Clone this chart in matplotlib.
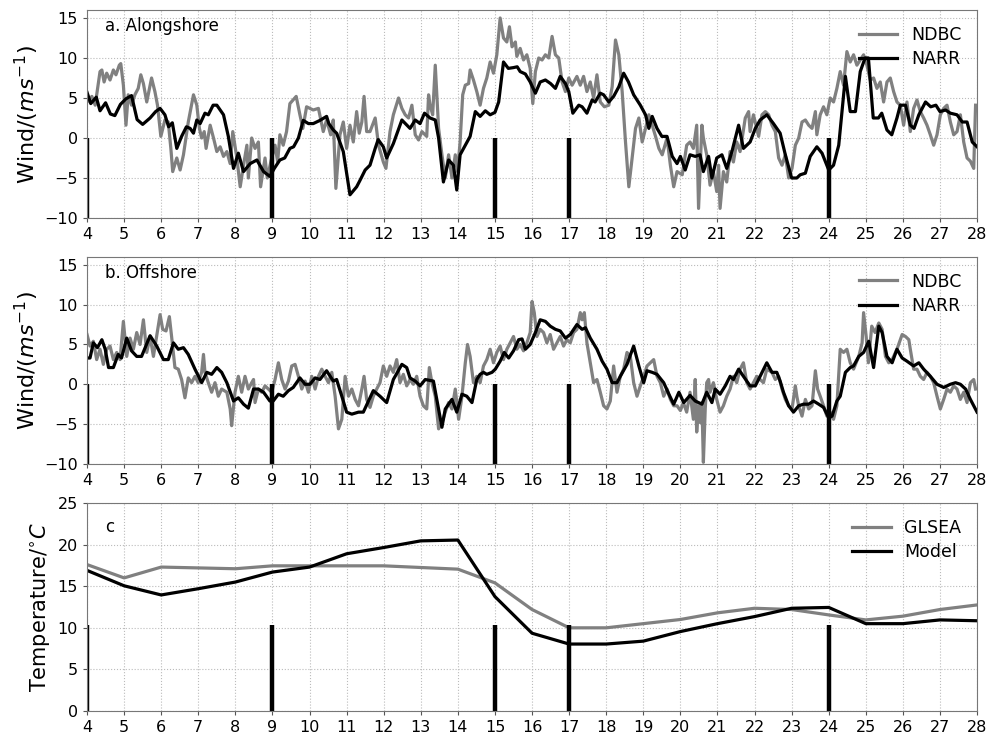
import numpy as np
import matplotlib
matplotlib.use("Agg")
import matplotlib.pyplot as plt

# ---- a. alongshore wind ----
ndbc_a_t = [4.0, 4.13, 4.22, 4.35, 4.4, 4.46, 4.53, 4.62, 4.71, 4.78, 4.87, 4.91, 4.98, 5.05, 5.11, 5.2, 5.29, 5.38,
            5.45, 5.52, 5.61, 5.74, 5.83, 5.9, 5.99, 6.1, 6.19, 6.26, 6.31, 6.42, 6.51, 6.6, 6.73, 6.87, 6.96, 7.03,
            7.09, 7.16, 7.21, 7.32, 7.41, 7.5, 7.59, 7.68, 7.77, 7.86, 7.93, 8.04, 8.13, 8.22, 8.31, 8.35, 8.44, 8.53,
            8.62, 8.68, 8.8, 8.86, 8.98, 9.07, 9.14, 9.2, 9.29, 9.38, 9.47, 9.64, 9.74, 9.82, 9.92, 10.1, 10.24, 10.37,
            10.46, 10.57, 10.64, 10.71, 10.82, 10.91, 11.0, 11.09, 11.18, 11.27, 11.34, 11.41, 11.47, 11.54, 11.63,
            11.77, 11.86, 11.99, 12.06, 12.17, 12.26, 12.4, 12.49, 12.58, 12.67, 12.76, 12.85, 12.94, 13.03, 13.16,
            13.21, 13.25, 13.32, 13.39, 13.48, 13.57, 13.66, 13.75, 13.84, 13.93, 13.99, 14.06, 14.13, 14.2, 14.29,
            14.33, 14.42, 14.51, 14.6, 14.69, 14.78, 14.87, 14.96, 15.05, 15.14, 15.23, 15.32, 15.39, 15.46, 15.55,
            15.59, 15.68, 15.77, 15.86, 15.95, 16.02, 16.09, 16.18, 16.27, 16.36, 16.45, 16.54, 16.63, 16.72, 16.81,
            16.9, 16.99, 17.08, 17.21, 17.3, 17.39, 17.48, 17.57, 17.66, 17.75, 17.84, 17.95, 18.07, 18.16, 18.25,
            18.34, 18.43, 18.52, 18.61, 18.7, 18.79, 18.88, 18.97, 19.06, 19.15, 19.24, 19.33, 19.42, 19.51, 19.64,
            19.73, 19.82, 19.91, 20.05, 20.17, 20.26, 20.35, 20.44, 20.49, 20.58, 20.62, 20.71, 20.8, 20.89, 20.98,
            21.03, 21.07, 21.16, 21.25, 21.34, 21.43, 21.52, 21.61, 21.75, 21.84, 21.88, 21.97, 22.11, 22.2, 22.29,
            22.38, 22.47, 22.56, 22.65, 22.74, 22.83, 22.92, 23.01, 23.1, 23.19, 23.28, 23.37, 23.46, 23.55, 23.64,
            23.68, 23.77, 23.86, 23.95, 24.04, 24.13, 24.22, 24.31, 24.4, 24.49, 24.58, 24.67, 24.76, 24.85, 24.94,
            25.03, 25.12, 25.21, 25.3, 25.39, 25.48, 25.57, 25.66, 25.75, 25.84, 25.93, 26.02, 26.11, 26.2, 26.29,
            26.38, 26.47, 26.56, 26.65, 26.74, 26.83, 26.92, 27.01, 27.1, 27.19, 27.28, 27.37, 27.46, 27.55, 27.64,
            27.73, 27.82, 27.91, 27.96]
ndbc_a_v = [4.5, 5.2, 4.1, 8.3, 8.5, 7.0, 8.1, 7.25, 8.5, 7.9, 9.1, 9.3, 6.6, 1.6, 5.4, 4.1, 5.4, 6.2,
            7.9, 6.8, 4.5, 7.5, 5.8, 4.1, 0.2, 2.25, 2.0, -1.3, -4.2, -2.5, -4.0, -2.1, 2.0, 5.4, 4.1, 1.2,
            0.0, 0.8, -1.3, 1.6, 0.0, -1.7, -1.1, -2.3, -1.7, -3.2, 0.8, -2.5, -6.1, -3.4, -0.9, -5.0, 0.0, -1.3,
            -0.5, -6.1, -2.5, -5.0, -2.5, -0.9, -3.0, 0.4, -0.9, 0.8, 4.3, 5.2, 2.9, 1.2, 3.9, 3.5, 3.7, 0.8,
            2.25, 0.4, 2.25, -6.3, 0.4, 2.0, -1.3, 1.6, -0.5, 3.3, 0.6, 2.0, 5.2, 0.8, 0.8,
            2.5, -0.9, -3.0, -3.8, 0.8, 2.9, 5.0, 3.7, 2.9, 2.5, 4.1, 0.4, -0.25, 0.8, 0.2,
            5.4, 4.1, 2.9, 9.1, 1.2, -2.1, -5.0, -2.1, -5.0, -2.1, -4.2, -0.5, 5.4, 6.6, 6.8,
            8.5, 7.25, 5.8, 4.1, 6.2, 7.5, 9.5, 8.1, 10.4, 15.0, 12.5, 12.0, 13.9, 11.4, 12.0,
            10.2, 11.2, 9.75, 10.4, 8.7, 4.3, 8.3, 10.0, 9.75, 10.4, 10.0, 12.7, 10.4, 10.0, 7.0,
            5.8, 7.5, 6.6, 7.7, 6.6, 7.7, 5.8, 7.0, 5.0, 7.9, 4.5, 3.9, 4.1, 6.4, 12.25,
            10.4, 5.8, -0.5, -6.1, -2.5, 1.2, 2.5, -0.5, 1.2, 2.9, 1.6, 0.2, -1.3, -2.1, 0.0,
            -3.4, -6.1, -4.2, -4.6, -0.9, -0.5, -1.3, 1.6, -8.8, 1.6, 0.0, -2.1, -5.9, -4.2, -6.7,
            -3.4, -8.8, -4.2, -5.5, -1.7, -3.0, -0.5, -1.7, 2.5, 3.3, 0.8, 2.9, 0.2, 2.9, 3.3,
            2.9, 1.6, 0.8, -2.5, -3.4, -2.1, -5.0, -3.8, -0.9, 0.0, 2.0, 2.25, 1.6, 1.2, 3.3,
            0.4, 2.9, 3.9, 2.9, 5.0, 4.5, 6.2, 8.3, 6.6, 10.8, 9.5, 10.4, 9.1, 9.75, 10.4,
            9.1, 7.25, 7.5, 6.2, 7.0, 4.5, 7.0, 7.5, 5.8, 4.5, 4.1, 1.6, 4.5, 0.8, 3.7,
            4.75, 3.3, 2.5, 1.6, 0.4, -0.9, 0.4, 2.9, 3.7, 4.1, 2.0, 0.4, 0.8, 2.9, -0.5,
            -2.5, -2.9, -3.8, 4.1]

narr_a_t = [4.0, 4.1, 4.25, 4.35, 4.5, 4.63, 4.75, 4.9, 5.05, 5.2, 5.35, 5.5, 5.7, 5.85, 5.97, 6.1, 6.2, 6.3,
            6.42, 6.55, 6.68, 6.78, 6.87, 6.96, 7.05, 7.18, 7.27, 7.4, 7.5, 7.68, 7.81, 7.95, 8.08, 8.22, 8.4,
            8.58, 8.76, 8.93, 9.05, 9.2, 9.33, 9.47, 9.57, 9.7, 9.83, 9.97, 10.1, 10.28, 10.46, 10.52, 10.64,
            10.73, 10.91, 11.09, 11.27, 11.36, 11.5, 11.63, 11.77, 11.85, 11.99, 12.08, 12.26, 12.49, 12.71,
            12.85, 12.98, 13.1, 13.25, 13.39, 13.48, 13.61, 13.75, 13.88, 13.97, 14.06, 14.2, 14.33, 14.47,
            14.6, 14.74, 14.87, 15.0, 15.1, 15.23, 15.36, 15.5, 15.6, 15.68, 15.82, 15.95, 16.09, 16.22,
            16.36, 16.5, 16.63, 16.76, 16.9, 16.99, 17.1, 17.26, 17.35, 17.48, 17.62, 17.7, 17.84, 17.93,
            18.07, 18.2, 18.34, 18.47, 18.6, 18.74, 18.92, 19.06, 19.15, 19.24, 19.37, 19.5, 19.64, 19.78,
            19.91, 20.0, 20.13, 20.26, 20.4, 20.53, 20.62, 20.76, 20.85, 20.98, 21.12, 21.25, 21.39, 21.57,
            21.7, 21.88, 22.02, 22.15, 22.33, 22.51, 22.69, 22.83, 23.0, 23.14, 23.23, 23.37, 23.5, 23.68,
            23.82, 24.0, 24.13, 24.27, 24.45, 24.58, 24.72, 24.85, 24.98, 25.07, 25.2, 25.34, 25.43, 25.57,
            25.7, 25.84, 25.93, 26.07, 26.2, 26.3, 26.43, 26.61, 26.75, 26.89, 27.0, 27.15, 27.28, 27.46,
            27.6, 27.73, 27.87, 28.0]
narr_a_v = [5.7, 4.3, 5.1, 3.4, 4.4, 3.0, 2.8, 4.2, 4.9, 5.3, 2.3, 1.7, 2.5, 3.3, 3.7, 2.9, 1.4, 1.9,
            -1.3, 0.2, 1.4, 1.2, 0.6, 2.25, 1.8, 3.1, 2.9, 4.1, 4.1, 2.9, 0.2, -3.8, -1.9, -4.2, -3.2,
            -2.75, -4.2, -4.8, -3.8, -2.75, -2.5, -1.3, -1.1, 0.0, 2.2, 1.8, 1.8, 2.2, 2.7, 1.8, 1.0,
            0.6, -1.7, -7.1, -6.1, -5.3, -4.0, -3.4, -1.3, -0.2, -1.1, -2.5, -0.7, 2.25, 1.2,
            2.25, 1.8, 3.1, 2.5, 2.25, 0.0, -5.5, -2.75, -3.4, -6.5, -2.1, -0.9, 0.2, 3.3,
            2.7, 3.4, 2.9, 3.2, 4.5, 9.5, 8.7, 8.8, 8.9, 8.3, 8.0, 7.0, 5.6, 7.0,
            7.25, 6.8, 6.2, 7.7, 6.8, 5.8, 3.1, 4.1, 3.9, 3.1, 4.75, 4.5, 5.6, 5.4,
            4.5, 5.2, 6.4, 8.1, 7.0, 5.4, 4.1, 2.9, 1.2, 2.7, 1.2, 0.2, 0.2, -2.3,
            -3.2, -2.3, -4.0, -2.1, -2.3, -2.1, -4.2, -2.3, -5.0, -2.5, -2.1, -3.8, -1.7, 1.6,
            -1.3, -0.5, 1.2, 2.25, 2.9, 1.8, 0.6, -2.1, -5.0, -5.0, -4.6, -4.4, -2.3, -1.1,
            -1.9, -4.0, -3.4, -0.9, 7.7, 3.3, 3.3, 8.3, 10.0, 10.0, 2.5, 2.5, 3.1, 1.0,
            0.4, 2.5, 4.1, 4.1, 1.6, 1.2, 2.9, 4.5, 3.9, 4.1, 3.3, 3.5, 3.1, 2.9,
            2.0, 2.0, -0.5, -1.1]

# ---- b. offshore wind ----
ndbc_b_t = [4.0, 4.08, 4.17, 4.26, 4.35, 4.44, 4.53, 4.62, 4.71, 4.8, 4.89, 4.98, 5.07, 5.16, 5.25, 5.34, 5.43,
            5.52, 5.61, 5.7, 5.79, 5.97, 6.04, 6.13, 6.22, 6.28, 6.37, 6.46, 6.55, 6.64, 6.73, 6.82, 6.91, 7.0,
            7.09, 7.14, 7.18, 7.27, 7.36, 7.45, 7.54, 7.63, 7.77, 7.86, 7.9, 7.99, 8.08, 8.17, 8.26, 8.35, 8.44,
            8.49, 8.53, 8.62, 8.71, 8.8, 8.89, 8.98, 9.07, 9.16, 9.25, 9.34, 9.43, 9.52, 9.61, 9.7, 9.79, 9.88,
            9.97, 10.06, 10.15, 10.24, 10.33, 10.42, 10.51, 10.6, 10.69, 10.78, 10.87, 10.96, 11.05, 11.14,
            11.23, 11.32, 11.41, 11.47, 11.54, 11.63, 11.72, 11.81, 11.9, 11.99, 12.08, 12.17, 12.26, 12.35,
            12.44, 12.53, 12.62, 12.71, 12.8, 12.89, 12.98, 13.07, 13.16, 13.23, 13.3, 13.39, 13.48, 13.57,
            13.66, 13.75, 13.84, 13.93, 14.02, 14.11, 14.2, 14.26, 14.33, 14.42, 14.51, 14.6, 14.69, 14.78,
            14.87, 14.96, 15.05, 15.14, 15.23, 15.32, 15.41, 15.5, 15.59, 15.68, 15.77, 15.86, 15.95, 16.0,
            16.06, 16.13, 16.22, 16.31, 16.4, 16.49, 16.58, 16.67, 16.76, 16.85, 16.94, 17.03, 17.12, 17.21,
            17.3, 17.35, 17.41, 17.48, 17.57, 17.66, 17.75, 17.84, 17.93, 18.02, 18.11, 18.2, 18.29, 18.38,
            18.47, 18.56, 18.65, 18.74, 18.83, 18.92, 19.01, 19.1, 19.19, 19.28, 19.37, 19.46, 19.55, 19.64,
            19.73, 19.82, 19.91, 20.0, 20.08, 20.17, 20.26, 20.35, 20.4, 20.44, 20.49, 20.53, 20.58, 20.62,
            20.67, 20.71, 20.76, 20.8, 20.89, 20.98, 21.07, 21.16, 21.25, 21.34, 21.43, 21.52, 21.61, 21.7,
            21.79, 21.88, 21.97, 22.06, 22.15, 22.24, 22.33, 22.47, 22.56, 22.65, 22.74, 22.83, 22.92, 23.01,
            23.1, 23.14, 23.19, 23.28, 23.37, 23.46, 23.55, 23.64, 23.7, 23.77, 23.86, 23.95, 24.04, 24.13,
            24.22, 24.31, 24.4, 24.49, 24.58, 24.67, 24.81, 24.9, 24.94, 25.01, 25.07, 25.16, 25.25, 25.35,
            25.44, 25.53, 25.62, 25.71, 25.84, 25.98, 26.07, 26.16, 26.2, 26.29, 26.38, 26.47, 26.56, 26.65,
            26.74, 26.83, 26.92, 27.01, 27.1, 27.19, 27.28, 27.37, 27.46, 27.55, 27.64, 27.73, 27.82, 27.91,
            27.96]
ndbc_b_v = [6.25, 4.8, 5.4, 3.1, 4.4, 2.5, 4.4, 4.8, 3.1, 4.0, 3.1, 7.9, 3.5, 5.8, 4.4, 6.5, 5.0,
            8.1, 4.0, 6.0, 3.5, 8.75, 6.9, 6.7, 8.5, 6.0, 2.1, 1.9, 0.6, -1.7, 0.8, 0.2, 1.0, 0.2,
            1.5, 3.75, 1.5, 0.2, -1.0, 0.2, -1.5, -0.6, -1.0, -3.1, -5.2, -1.0, 1.0, -1.0, 1.0, -0.6, 0.2,
            0.6, -2.3, -0.6, -1.0, -0.2, -0.6, -1.0, 0.6, 2.7, 0.6, -0.6, 0.4, 2.3, 2.5, 1.0, -0.6, 0.4,
            -1.0, 1.0, -0.6, 1.0, 1.9, 1.0, 0.2, 1.5, -1.5, -5.6, -4.4, 1.0, -1.5, -0.6,
            -1.9, -2.7, -0.6, 1.0, -1.9, -2.9, -1.5, -0.6, 0.2, 2.3, 1.0, 2.3, 1.5, 3.1,
            0.2, 1.25, -0.2, 0.6, 0.0, 1.0, -1.5, -2.7, -3.1, 2.1, 0.2, -1.5, -5.6, -4.8,
            -3.5, -2.3, -3.1, -0.6, -4.4, -1.5, 2.7, 5.0, 3.5, 0.2, 1.0, 0.2, 2.3, 3.1,
            4.4, 2.7, 4.0, 4.8, 3.1, 4.4, 5.2, 6.0, 4.4, 5.0, 4.2, 5.2, 6.5, 10.4,
            9.0, 6.0, 6.9, 6.5, 5.2, 6.25, 4.4, 5.2, 6.0, 4.8, 5.6, 5.2, 6.5, 6.9,
            9.0, 8.1, 9.0, 5.2, 2.7, 0.2, 0.6, -1.0, -2.7, -3.1, -2.1, 2.3, -1.0, 1.0,
            1.9, 4.0, 3.5, 0.2, -1.5, -0.2, 1.0, 2.3, 2.7, 3.1, 1.0, 0.2, -1.5, -0.6,
            -1.9, -2.7, -2.7, -3.3, -2.3, -3.5, -1.0, -4.4, 0.6, -6.0, -2.7, -4.8, -2.3, -9.8,
            -3.1, 0.2, 0.6, -1.0, 0.2, -1.9, -3.5, -2.7, -1.5, -0.6, 1.0, 0.2, 1.9, 2.7,
            0.2, -0.6, 0.2, 1.0, 0.6, 0.2, 1.9, 1.5, 0.6, 1.0, -0.6, -1.9, -2.7, -3.1,
            -0.2, -1.5, -2.7, -4.0, -1.9, -3.1, -2.7, 1.7, -0.6, -1.5, -2.7, -4.0, -3.5, -4.4,
            -2.7, 4.4, 4.0, 4.4, 2.7, 1.9, 3.5, 5.2, 9.0, 6.0, 2.7, 7.3, 6.5, 7.7,
            6.9, 3.5, 2.7, 3.1, 4.4, 6.25, 6.0, 5.6, 4.4, 1.9, 1.9, 1.0, 0.6, 1.5,
            1.0, 0.2, -1.5, -3.1, -1.9, -0.6, -1.0, -0.2, -0.6, -1.9, -1.0, -2.3, 0.2, 0.6,
            -0.6]

narr_b_t = [4.0, 4.08, 4.17, 4.28, 4.4, 4.49, 4.58, 4.71, 4.84, 4.93, 5.07, 5.2, 5.34, 5.47, 5.7, 5.88, 6.06,
            6.19, 6.33, 6.46, 6.6, 6.73, 6.91, 7.09, 7.23, 7.36, 7.5, 7.63, 7.77, 7.95, 8.08, 8.22, 8.35, 8.49,
            8.62, 8.76, 8.93, 9.02, 9.16, 9.29, 9.43, 9.56, 9.74, 9.88, 10.01, 10.15, 10.28, 10.46, 10.64,
            10.73, 10.87, 11.0, 11.14, 11.32, 11.45, 11.59, 11.72, 11.9, 12.08, 12.26, 12.49, 12.62, 12.71,
            12.85, 12.98, 13.12, 13.34, 13.48, 13.57, 13.66, 13.84, 13.97, 14.11, 14.24, 14.38, 14.51, 14.6,
            14.69, 14.78, 14.92, 15.01, 15.14, 15.25, 15.37, 15.5, 15.64, 15.73, 15.82, 15.95, 16.09, 16.22,
            16.36, 16.49, 16.63, 16.76, 16.9, 17.03, 17.21, 17.35, 17.44, 17.57, 17.75, 17.89, 18.02, 18.16,
            18.29, 18.38, 18.56, 18.74, 18.88, 19.01, 19.1, 19.24, 19.37, 19.55, 19.69, 19.82, 19.96, 20.09,
            20.26, 20.4, 20.58, 20.71, 20.85, 20.94, 21.07, 21.21, 21.34, 21.43, 21.57, 21.7, 21.88, 22.02,
            22.15, 22.33, 22.47, 22.6, 22.69, 22.78, 22.92, 23.05, 23.19, 23.32, 23.46, 23.59, 23.73, 23.86,
            24.0, 24.09, 24.22, 24.31, 24.45, 24.58, 24.67, 24.81, 24.94, 25.08, 25.21, 25.35, 25.44, 25.57,
            25.71, 25.84, 25.98, 26.11, 26.29, 26.43, 26.56, 26.74, 26.92, 27.1, 27.28, 27.42, 27.55, 27.69,
            27.82, 28.0]
narr_b_v = [3.3, 3.3, 5.2, 4.6, 5.6, 4.4, 2.1, 2.1, 3.75, 3.3, 5.8, 4.2, 3.5, 3.5, 6.1, 4.8, 3.1,
            3.1, 5.2, 4.4, 4.6, 3.75, 1.9, 0.2, 1.5, 1.25, 2.1, 1.5, 0.2, -2.1, -1.7, -2.5, -3.0, -0.6,
            -0.6, -1.0, -2.1, -2.1, -1.25, -1.5, -0.8, -0.4, 0.8, 0.0, 0.0, 0.8, 0.6, 1.7, 0.4,
            0.6, -1.5, -3.5, -3.75, -3.5, -3.5, -2.1, -0.8, -1.5, -2.3, 0.6, 2.5, 2.1, 0.8,
            0.4, -0.2, 0.6, 0.4, -3.1, -5.4, -3.1, -1.9, -3.5, -1.25, -1.5, -2.3, 0.6, 1.25,
            1.5, 1.25, 1.5, 1.9, 2.9, 4.0, 3.3, 4.2, 5.6, 5.7, 4.4, 5.0, 6.5, 8.1,
            7.9, 7.3, 6.9, 6.7, 5.8, 6.25, 7.5, 6.9, 7.1, 5.8, 4.4, 2.9, 1.9, 0.2,
            0.2, 1.0, 2.5, 4.8, 2.3, 0.2, 1.7, 1.5, 1.25, 0.2, -1.25, -2.5, -1.0, -2.3,
            -1.4, -2.1, -2.5, -1.0, -2.3, -0.6, -1.25, -0.2, 1.0, 0.6, 1.9, 1.0, -0.2, -0.2,
            1.0, 2.7, 1.5, 1.5, 0.4, -1.0, -2.7, -3.5, -2.7, -2.5, -2.5, -2.1, -2.5, -2.9,
            -4.2, -4.0, -2.1, -1.5, 1.5, 2.1, 2.3, 3.5, 4.0, 5.4, 2.1, 7.3, 6.5, 3.5,
            2.7, 4.4, 3.3, 2.9, 2.3, 2.7, 1.9, 1.0, 0.0, -0.4, 0.0, 0.2, 0.0, -0.6,
            -1.9, -3.5]

# ---- c. temperature ----
days_c = list(range(4, 29))
glsea = [17.6, 16.0, 17.3, 17.2, 17.1, 17.45, 17.45, 17.45, 17.45, 17.25, 17.05, 15.4, 12.2,
         10.0, 10.0, 10.5, 11.0, 11.8, 12.35, 12.2, 11.55, 10.95, 11.4, 12.2, 12.75]
model = [16.9, 15.05, 13.95, 14.7, 15.5, 16.7, 17.3, 18.9, 19.65, 20.45, 20.55, 13.75, 9.35,
         8.05, 8.05, 8.4, 9.55, 10.5, 11.35, 12.35, 12.45, 10.5, 10.5, 10.95, 10.85]

event_days = [4, 9, 15, 17, 24]
bar_top_c = 10.3

GRAY = "#808080"
FS = 11.5
LEG = dict(loc="upper right", frameon=False, fontsize=12.5, handlelength=2.2,
           labelspacing=0.35, borderaxespad=0.5)

fig = plt.figure(figsize=(9.97, 7.34), dpi=100)
boxes = [(0.0873, 0.703, 0.8927, 0.2834),
         (0.0873, 0.368, 0.8927, 0.2820),
         (0.0873, 0.0313, 0.8927, 0.2834)]
axes = [fig.add_axes(b) for b in boxes]


def style(ax, ylim, yticks):
    ax.set_xlim(4, 28)
    ax.set_xticks(range(4, 29))
    ax.set_ylim(*ylim)
    ax.set_yticks(yticks)
    ax.tick_params(labelsize=FS, length=3, color="#555555")
    ax.grid(True, linestyle=":", color="#bbbbbb", linewidth=0.8)
    for s in ax.spines.values():
        s.set_color("#777777")


ax = axes[0]
ax.plot(ndbc_a_t, ndbc_a_v, color=GRAY, lw=2.3, label="NDBC")
ax.plot(narr_a_t, narr_a_v, color="black", lw=2.3, label="NARR")
ax.vlines(event_days, -10, 0, color="black", lw=3.2)
style(ax, (-10, 16), [-10, -5, 0, 5, 10, 15])
ax.text(0.02, 0.965, "a. Alongshore", transform=ax.transAxes, fontsize=12, va="top")
ax.set_ylabel(r"Wind/$(ms^{-1})$", fontsize=16, labelpad=2)
ax.legend(**LEG)

ax = axes[1]
ax.plot(ndbc_b_t, ndbc_b_v, color=GRAY, lw=2.3, label="NDBC")
ax.plot(narr_b_t, narr_b_v, color="black", lw=2.3, label="NARR")
ax.vlines(event_days, -10, 0, color="black", lw=3.2)
style(ax, (-10, 16), [-10, -5, 0, 5, 10, 15])
ax.text(0.02, 0.965, "b. Offshore", transform=ax.transAxes, fontsize=12, va="top")
ax.set_ylabel(r"Wind/$(ms^{-1})$", fontsize=16, labelpad=2)
ax.legend(**LEG)

ax = axes[2]
ax.plot(days_c, glsea, color=GRAY, lw=2.3, label="GLSEA")
ax.plot(days_c, model, color="black", lw=2.3, label="Model")
ax.vlines(event_days, 0, bar_top_c, color="black", lw=3.2)
style(ax, (0, 25), [0, 5, 10, 15, 20, 25])
ax.text(0.02, 0.93, "c", transform=ax.transAxes, fontsize=12, va="top")
ax.set_ylabel(r"Temperature/$^{\circ}C$", fontsize=15)
ax.legend(**LEG)

fig.savefig("out.png", dpi=100)
